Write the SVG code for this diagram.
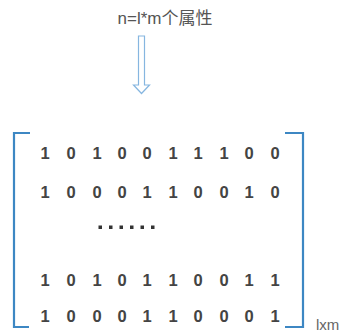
<svg xmlns="http://www.w3.org/2000/svg" width="345" height="336" viewBox="0 0 345 336">
  <style>
    .title { font-family: "Liberation Sans", "Noto Sans CJK SC", sans-serif; font-size: 17px; fill: #555555; }
    .digit { font-family: "Liberation Sans", sans-serif; font-size: 16.5px; font-weight: bold; fill: #444444; text-anchor: middle; }
    .size { font-family: "Liberation Sans", sans-serif; font-size: 15px; fill: #666666; }
    .bracket { fill: none; stroke: #3d87c3; stroke-width: 2.2; }
    .arrow { fill: #ffffff; stroke: #86b6e0; stroke-width: 1.2; }
    .dot { fill: #333333; }
  </style>

  <!-- label -->
  <g id="label">
    <text class="title" x="165" y="24" text-anchor="middle">n=l*m个属性</text>
  </g>

  <!-- hollow down arrow -->
  <g id="connectors">
    <path class="arrow" d="M138.5,36 L144.5,36 L144.5,85 L149.5,85 L141.5,93.5 L133.5,85 L138.5,85 Z"/>
  </g>

  <!-- matrix -->
  <g id="matrix">
    <path class="bracket" d="M30,133 L14,133 L14,327 L29,327"/>
    <path class="bracket" d="M285,133 L303,133 L303,327 L285,327"/>

    <g id="row1">
      <text class="digit" y="159"><tspan x="45">1</tspan><tspan x="71">0</tspan><tspan x="97">1</tspan><tspan x="122">0</tspan><tspan x="147">0</tspan><tspan x="173">1</tspan><tspan x="198">1</tspan><tspan x="224">1</tspan><tspan x="249">0</tspan><tspan x="275">0</tspan></text>
    </g>
    <g id="row2">
      <text class="digit" y="198"><tspan x="45">1</tspan><tspan x="71">0</tspan><tspan x="97">0</tspan><tspan x="122">0</tspan><tspan x="147">1</tspan><tspan x="173">1</tspan><tspan x="198">0</tspan><tspan x="224">0</tspan><tspan x="249">1</tspan><tspan x="275">0</tspan></text>
    </g>
    <g id="ellipsis">
      <rect class="dot" x="98.5" y="225.5" width="3.5" height="3.5"/>
      <rect class="dot" x="109" y="225.5" width="3.5" height="3.5"/>
      <rect class="dot" x="119.5" y="225.5" width="3.5" height="3.5"/>
      <rect class="dot" x="130" y="225.5" width="3.5" height="3.5"/>
      <rect class="dot" x="140.5" y="225.5" width="3.5" height="3.5"/>
      <rect class="dot" x="151" y="225.5" width="3.5" height="3.5"/>
    </g>
    <g id="row3">
      <text class="digit" y="286"><tspan x="45">1</tspan><tspan x="71">0</tspan><tspan x="97">1</tspan><tspan x="122">0</tspan><tspan x="147">1</tspan><tspan x="173">1</tspan><tspan x="198">0</tspan><tspan x="224">0</tspan><tspan x="249">1</tspan><tspan x="275">1</tspan></text>
    </g>
    <g id="row4">
      <text class="digit" y="322"><tspan x="45">1</tspan><tspan x="71">0</tspan><tspan x="97">0</tspan><tspan x="122">0</tspan><tspan x="147">1</tspan><tspan x="173">1</tspan><tspan x="198">0</tspan><tspan x="224">0</tspan><tspan x="249">0</tspan><tspan x="275">1</tspan></text>
    </g>
  </g>

  <g id="dimension">
    <text class="size" x="316" y="330">lxm</text>
  </g>
</svg>
